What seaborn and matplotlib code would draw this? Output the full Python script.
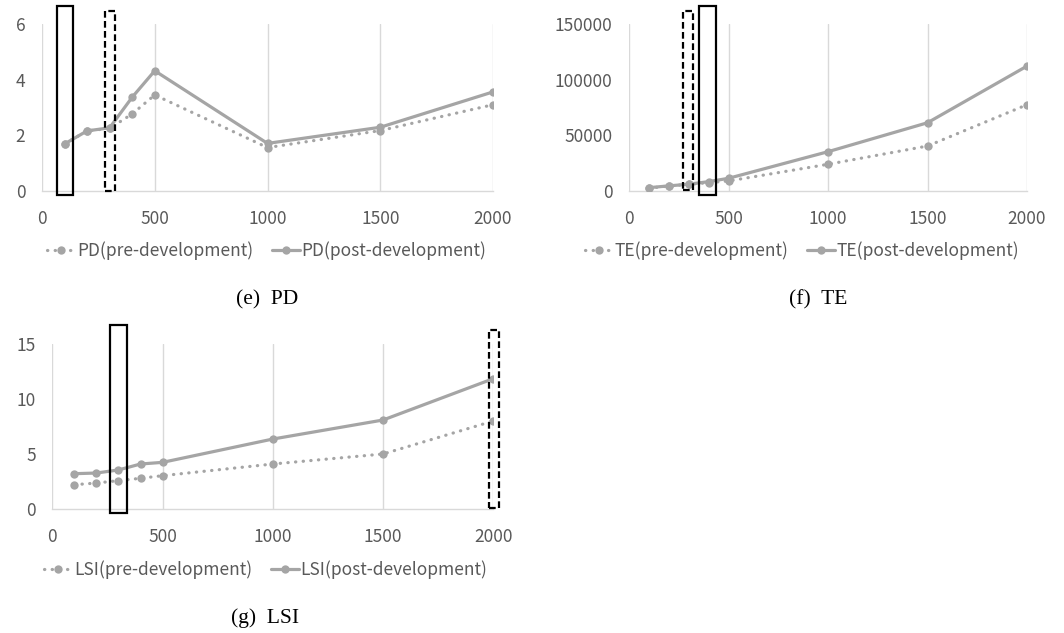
import matplotlib
matplotlib.use("Agg")
import matplotlib.pyplot as plt
from matplotlib.patches import Rectangle
from matplotlib.lines import Line2D
import seaborn as sns
import pandas as pd

# ---- data ----
distance = [100, 200, 300, 400, 500, 1000, 1500, 2000]

pd_pre = [1.69, 2.16, 2.25, 2.77, 3.45, 1.56, 2.17, 3.10]
pd_post = [1.69, 2.16, 2.27, 3.37, 4.32, 1.71, 2.29, 3.56]

te_pre = [2500, 4500, 6000, 7500, 9000, 24000, 40400, 77500]
te_post = [3000, 4600, 6100, 8400, 11400, 35300, 61300, 112200]

lsi_pre = [2.21, 2.36, 2.58, 2.79, 3.03, 4.09, 5.00, 8.00]
lsi_post = [3.21, 3.27, 3.55, 4.09, 4.24, 6.36, 8.09, 11.85]

metrics = ["PD", "TE", "LSI"]
captions = ["(e)  PD", "(f)  TE", "(g)  LSI"]
y_max = [6, 150000, 15]
y_step = [2, 50000, 5]
x_ticks = [0, 500, 1000, 1500, 2000]

# highlight boxes (data coords): (x0, x1, y0, y1, dashed)
boxes = {
    "PD": [(66, 137, -0.14, 6.65, False), (279, 324, 0.0, 6.47, True)],
    "TE": [(273, 323, 900, 161600, True), (352, 436, -3600, 166000, False)],
    "LSI": [(262, 339, -0.4, 16.7, False), (1979, 2025, 0.06, 16.3, True)],
}

series = {"PD": (pd_pre, pd_post), "TE": (te_pre, te_post), "LSI": (lsi_pre, lsi_post)}

sns.set_theme(style="white")
plt.rcParams["font.family"] = ["Noto Sans CJK KR", "DejaVu Sans"]

W, H = 1064, 633
fig = plt.figure(figsize=(W / 100, H / 100), dpi=100)

line_col = "#a5a5a5"
text_col = "#595959"
grid_col = "#d9d9d9"
fs = 12.5
lw = 2.3
ms = 6

axes_px = {  # left, top, right, bottom in pixels
    "PD": (42, 24, 493, 191),
    "TE": (629, 24, 1027, 191),
    "LSI": (52.3, 344, 493.3, 509),
}
legend_pos = {"PD": (267, 251), "TE": (802, 251), "LSI": (266, 570)}
caption_pos = {"PD": (267, 300), "TE": (818, 300), "LSI": (265, 618)}
dot_style = (0, (0.1, 2.3))

for i, m in enumerate(metrics):
    l, t, r, b = axes_px[m]
    ax = fig.add_axes([l / W, 1 - b / H, (r - l) / W, (b - t) / H])
    pre, post = series[m]
    df = pd.DataFrame({
        "x": distance * 2,
        "y": pre + post,
        "s": [f"{m}(pre-development)"] * len(pre) + [f"{m}(post-development)"] * len(post),
    })
    sns.lineplot(data=df, x="x", y="y", hue="s", ax=ax,
                 palette=[line_col, line_col], marker="o", markersize=ms,
                 markeredgewidth=0, linewidth=lw, legend=False, sort=False)
    lines = ax.get_lines()
    lines[0].set_linestyle(dot_style)
    lines[0].set_dash_capstyle("round")
    lines[0].set_zorder(3)
    lines[1].set_zorder(4)

    ax.set_xlim(0, 2000)
    ax.set_ylim(0, y_max[i])
    ax.set_xticks(x_ticks)
    ax.set_yticks(list(range(0, int(y_max[i]) + 1, int(y_step[i]))))
    ax.set_xlabel("")
    ax.set_ylabel("")
    ax.grid(axis="x", color=grid_col, linewidth=1)
    ax.grid(axis="y", visible=False)
    for s in ["top", "right", "left"]:
        ax.spines[s].set_visible(False)
    ax.spines["bottom"].set_color(grid_col)
    ax.spines["bottom"].set_linewidth(1)
    ax.tick_params(axis="both", length=0, labelsize=fs, labelcolor=text_col)
    ax.tick_params(axis="x", pad=14)
    ax.tick_params(axis="y", pad=12)

    for (x0, x1, y0, y1, dashed) in boxes[m]:
        ax.add_patch(Rectangle((x0, y0), x1 - x0, y1 - y0, fill=False,
                               edgecolor="black", linewidth=1.6,
                               linestyle=(0, (3, 1.5)) if dashed else "-",
                               clip_on=False, zorder=6))

    handles = [
        Line2D([], [], color=line_col, linewidth=lw, linestyle=dot_style,
               dash_capstyle="round", marker="o", markersize=ms, markeredgewidth=0),
        Line2D([], [], color=line_col, linewidth=lw, marker="o", markersize=ms,
               markeredgewidth=0),
    ]
    lx, ly = legend_pos[m]
    fig.legend(handles, [f"{m}(pre-development)", f"{m}(post-development)"],
               loc="center", bbox_to_anchor=(lx / W, 1 - ly / H), ncol=2,
               frameon=False, fontsize=fs, labelcolor=text_col,
               handlelength=1.6, handletextpad=0.1, columnspacing=1.1)
    cx, cy = caption_pos[m]
    fig.text(cx / W, 1 - cy / H, captions[i], ha="center", va="center",
             fontsize=15.5, family=["Liberation Serif"], color="black")

fig.savefig("out.png", dpi=100)
